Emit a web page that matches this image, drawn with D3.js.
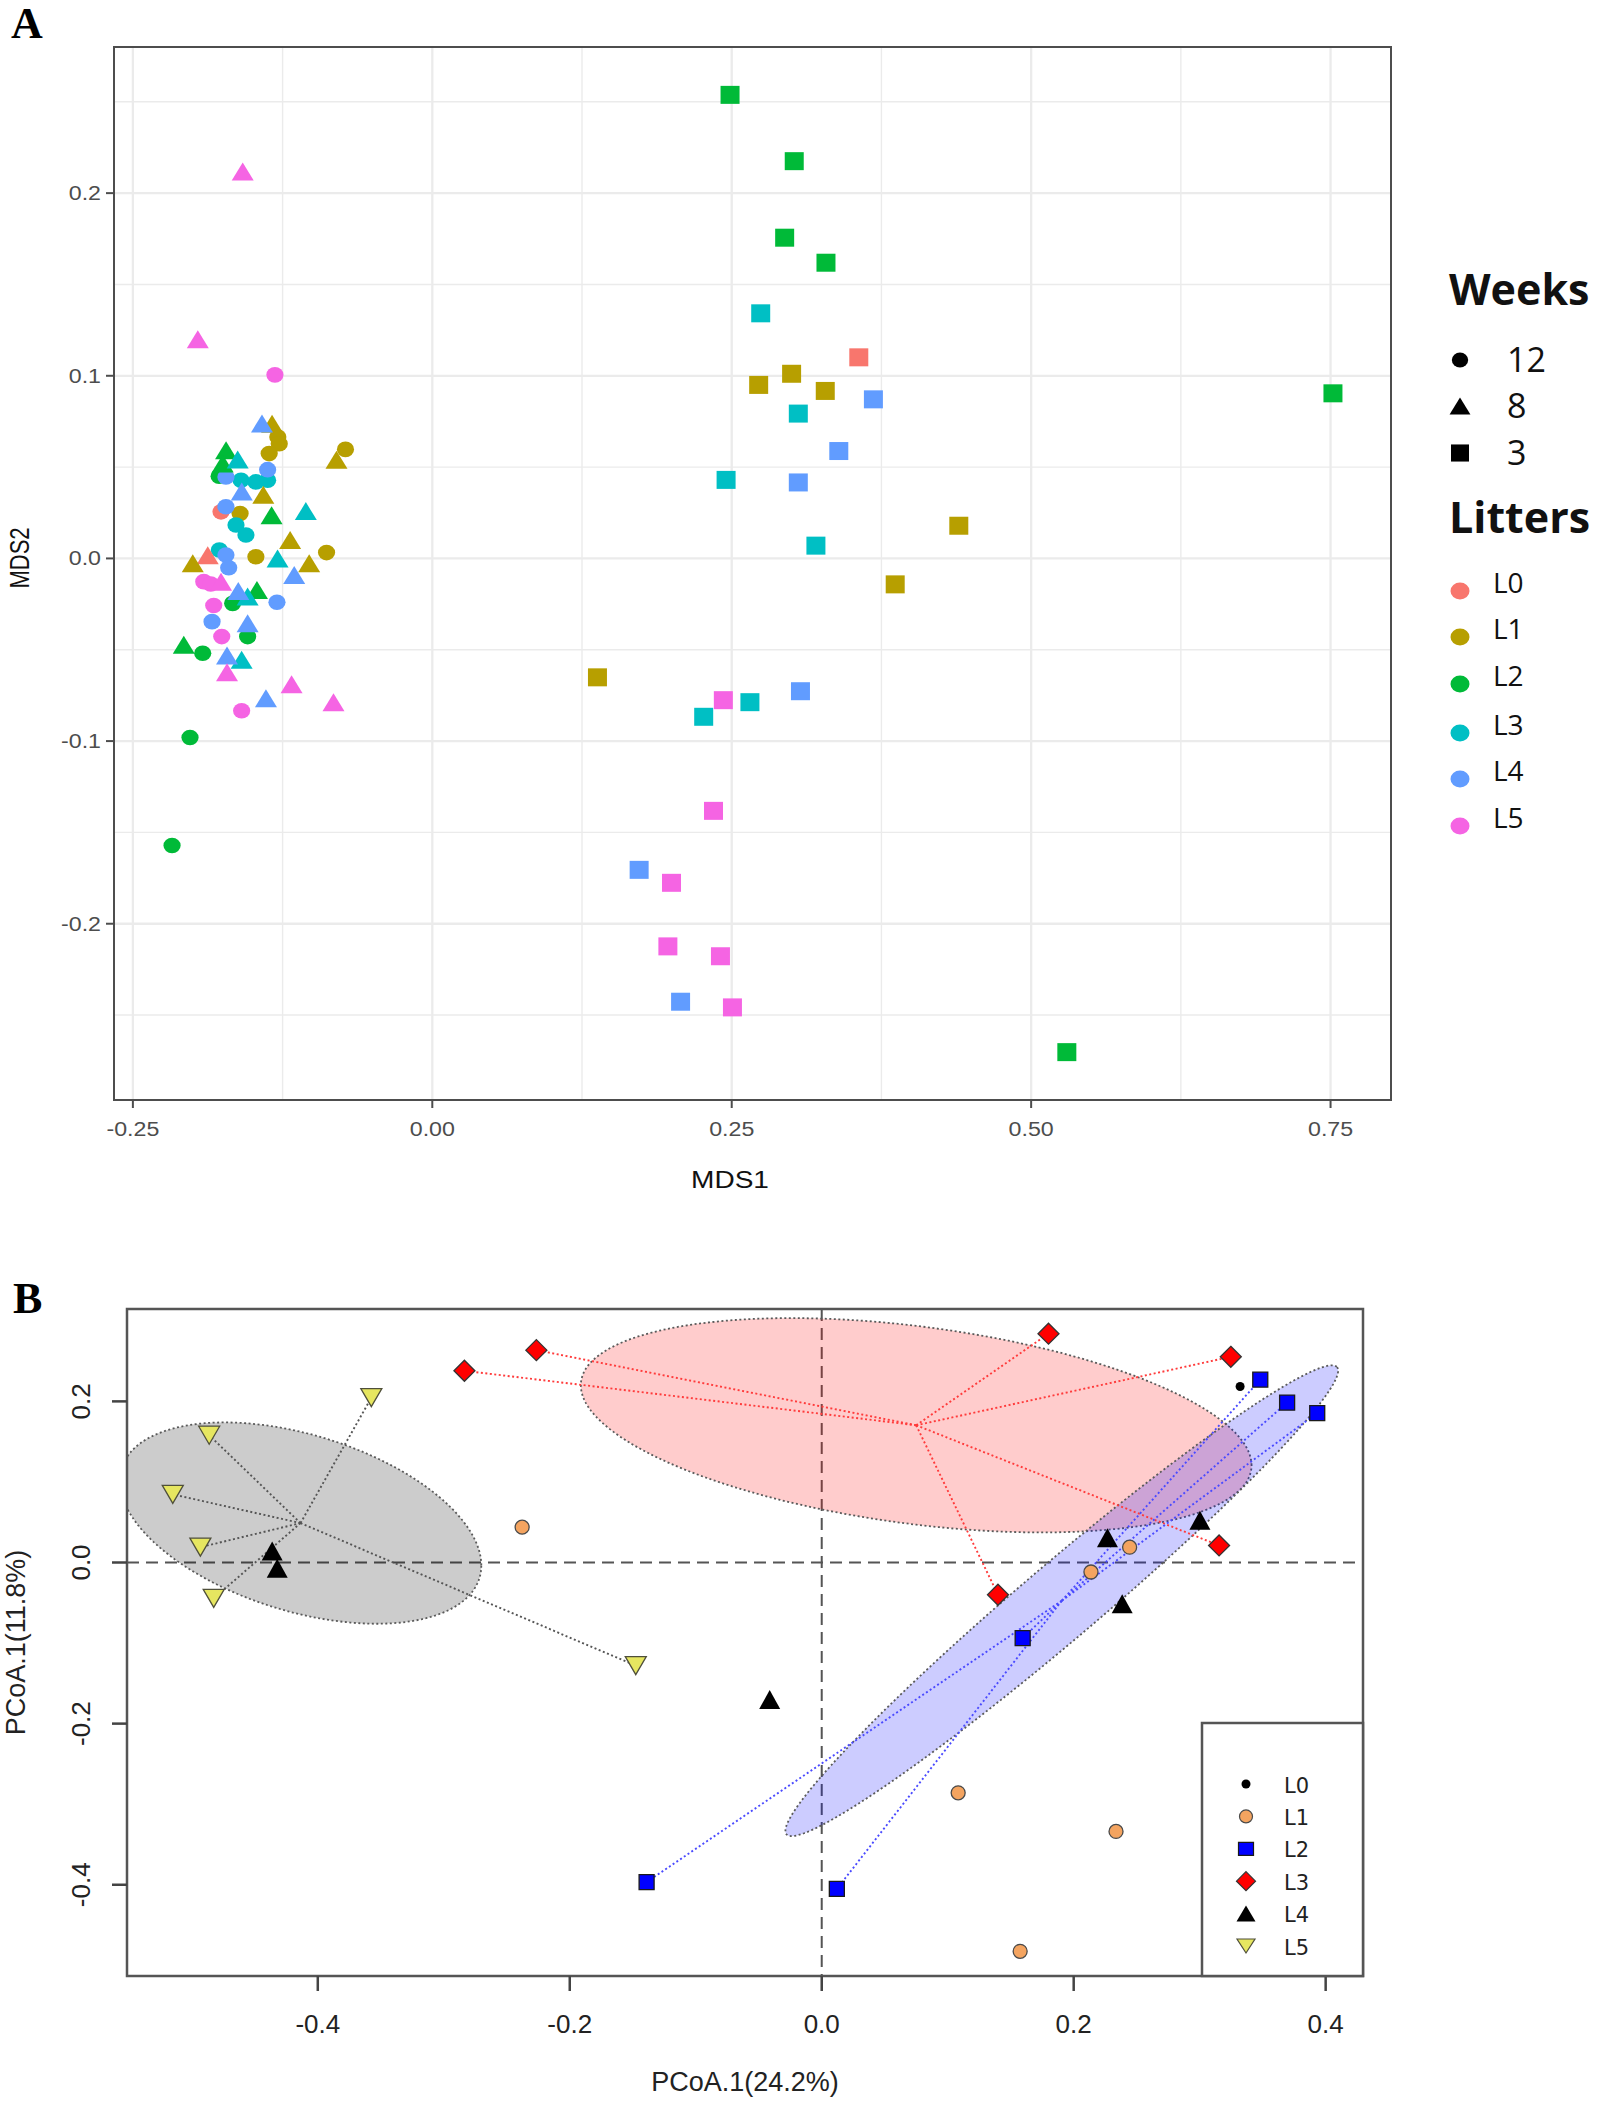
<!DOCTYPE html>
<html><head><meta charset="utf-8">
<script src="https://cdn.jsdelivr.net/npm/d3@7"></script>
<style>body{margin:0;background:#fff} svg{display:block}</style>
</head><body>
<svg id="chart" width="1598" height="2106"></svg>
<script>
// ================= Panel A: NMDS =================
const weeks = ["12", "8", "3"];
const litters = ["L0", "L1", "L2", "L3", "L4", "L5"];
const litterColors = ["#F8766D", "#B79F00", "#00BA38", "#00BFC4", "#619CFF", "#F564E3"];
const xTicksA = [-0.25, 0, 0.25, 0.5, 0.75];
const xTickLabelsA = ["-0.25", "0.00", "0.25", "0.50", "0.75"];
const yTicksA = [-0.2, -0.1, 0, 0.1, 0.2];
const yTickLabelsA = ["-0.2", "-0.1", "0.0", "0.1", "0.2"];

// [litter, MDS1, MDS2]
const week12 = [
  ["L0", -0.1764, 0.0255],
  ["L1", -0.1290, 0.0665], ["L1", -0.1278, 0.0628], ["L1", -0.1362, 0.0574], ["L1", -0.0725, 0.0597],
  ["L1", -0.1605, 0.0246], ["L1", -0.1473, 0.0009], ["L1", -0.0883, 0.0032],
  ["L2", -0.1780, 0.0450], ["L2", -0.1667, -0.0246], ["L2", -0.1542, -0.0428], ["L2", -0.1917, -0.0519],
  ["L2", -0.2023, -0.0980], ["L2", -0.2173, -0.1572],
  ["L3", -0.1597, 0.0428], ["L3", -0.1473, 0.0419], ["L3", -0.1375, 0.0428], ["L3", -0.1639, 0.0183],
  ["L3", -0.1556, 0.0128], ["L3", -0.1778, 0.0046],
  ["L4", -0.1723, 0.0446], ["L4", -0.1375, 0.0486], ["L4", -0.1723, 0.0283], ["L4", -0.1723, 0.0019],
  ["L4", -0.1700, -0.0051], ["L4", -0.1297, -0.0240], ["L4", -0.1839, -0.0346],
  ["L5", -0.1314, 0.1005], ["L5", -0.1908, -0.0127], ["L5", -0.1850, -0.0140], ["L5", -0.1825, -0.0258],
  ["L5", -0.1758, -0.0428], ["L5", -0.1592, -0.0834]
];
const week8 = [
  ["L0", -0.1875, 0.0018],
  ["L1", -0.1338, 0.0738], ["L1", -0.0800, 0.0540], ["L1", -0.1411, 0.0348], ["L1", -0.1187, 0.0101],
  ["L1", -0.2000, -0.0027], ["L1", -0.1028, -0.0027],
  ["L2", -0.1722, 0.0592], ["L2", -0.1750, 0.0520], ["L2", -0.1342, 0.0237], ["L2", -0.1464, -0.0173],
  ["L2", -0.2075, -0.0473],
  ["L3", -0.1625, 0.0542], ["L3", -0.1056, 0.0259], ["L3", -0.1292, 0.0000], ["L3", -0.1542, -0.0209],
  ["L3", -0.1592, -0.0555],
  ["L4", -0.1422, 0.0739], ["L4", -0.1591, 0.0366], ["L4", -0.1153, -0.0091], ["L4", -0.1620, -0.0178],
  ["L4", -0.1542, -0.0355], ["L4", -0.1714, -0.0532], ["L4", -0.1389, -0.0765],
  ["L5", -0.1583, 0.2118], ["L5", -0.1958, 0.1200], ["L5", -0.1764, -0.0127], ["L5", -0.1714, -0.0623],
  ["L5", -0.1175, -0.0689], ["L5", -0.0825, -0.0787]
];
const week3 = [
  ["L0", 0.3561, 0.1101],
  ["L1", 0.3000, 0.1011], ["L1", 0.2725, 0.0950], ["L1", 0.3281, 0.0917], ["L1", 0.4396, 0.0179],
  ["L1", 0.3865, -0.0142], ["L1", 0.1379, -0.0651],
  ["L2", 0.2486, 0.2538], ["L2", 0.3022, 0.2175], ["L2", 0.2942, 0.1756], ["L2", 0.3287, 0.1619],
  ["L2", 0.7520, 0.0904], ["L2", 0.5298, -0.2703],
  ["L3", 0.2742, 0.1342], ["L3", 0.3056, 0.0793], ["L3", 0.2453, 0.0430], ["L3", 0.3203, 0.0070],
  ["L3", 0.2652, -0.0787], ["L3", 0.2266, -0.0867],
  ["L4", 0.3683, 0.0871], ["L4", 0.3394, 0.0588], ["L4", 0.3056, 0.0416], ["L4", 0.3074, -0.0727],
  ["L4", 0.1727, -0.1705], ["L4", 0.2073, -0.2427],
  ["L5", 0.2430, -0.0776], ["L5", 0.2348, -0.1382], ["L5", 0.1997, -0.1776], ["L5", 0.1967, -0.2124],
  ["L5", 0.2406, -0.2178], ["L5", 0.2506, -0.2458]
];

// ================= Panel B: PCoA =================
const groupsB = ["L0", "L1", "L2", "L3", "L4", "L5"];
const pcoaL0 = [[0.3321, 0.2185]];
const pcoaL1 = [[-0.2378, 0.0439], [0.2444, 0.0190], [0.2137, -0.0118], [0.1083, -0.2859], [0.2336, -0.3338], [0.1575, -0.4826]];
const pcoaL2 = [[0.3481, 0.2270], [0.3694, 0.1985], [0.3933, 0.1855], [0.1595, -0.0938], [-0.1390, -0.3967], [0.0120, -0.4052]];
const pcoaL3 = [[-0.2836, 0.2380], [-0.2265, 0.2636], [0.1800, 0.2840], [0.3247, 0.2553], [0.1399, -0.0400], [0.3154, 0.0212]];
const pcoaL4 = [[-0.4362, 0.0144], [-0.4322, -0.0072], [0.2268, 0.0308], [0.2385, -0.0511], [-0.0413, -0.1700], [0.3002, 0.0524]];
const pcoaL5 = [[-0.4862, 0.1580], [-0.5151, 0.0846], [-0.4932, 0.0190], [-0.4826, -0.0446], [-0.3575, 0.2046], [-0.1476, -0.1280]];
const xTicksB = [-0.4, -0.2, 0, 0.2, 0.4];
const xTickLabelsB = ["-0.4", "-0.2", "0.0", "0.2", "0.4"];
const yTicksB = [-0.4, -0.2, 0, 0.2];
const yTickLabelsB = ["-0.4", "-0.2", "0.0", "0.2"];
// ellipse conjugate half-axes (data units) around each group centroid
const ellipseL5 = [[0.1435, -0.0525], [0.0, 0.1134]];
const ellipseL3 = [[0.2662, -0.0497], [0.0, 0.1234]];
const ellipseL2 = [[0.2185, 0.2900], [0.0197, -0.0358]];

// ---------------- helpers ----------------
const svg = d3.select("#chart");
const triUp = (w, h) => `M0,${-h/2}L${w/2},${h/2}L${-w/2},${h/2}Z`;
const triDown = (w, h) => `M0,${h/2}L${w/2},${-h/2}L${-w/2},${-h/2}Z`;
const rectP = (w, h) => `M${-w/2},${-h/2}h${w}v${h}h${-w}Z`;
const diamond = r => `M0,${-r}L${r},0L0,${r}L${-r},0Z`;
const ellP = (rx, ry) => `M${-rx},0a${rx},${ry} 0 1,0 ${2*rx},0a${rx},${ry} 0 1,0 ${-2*rx},0Z`;
const colorA = d3.scaleOrdinal().domain(litters).range(litterColors);
function minorTicks(ticks, dom) {
  const step = ticks[1] - ticks[0], out = [];
  for (let v = ticks[0] - step / 2; v <= dom[1] + 1e-9; v += step) if (v >= dom[0]) out.push(v);
  return out;
}

// ================= draw Panel A =================
const A = {left: 114, right: 1391, top: 47, bottom: 1100};
const allA = week12.concat(week8, week3);
const xe = d3.extent(allA, d => d[1]), ye = d3.extent(allA, d => d[2]);
const px = (xe[1] - xe[0]) * 0.05, py = (ye[1] - ye[0]) * 0.05;
const xA = d3.scaleLinear().domain([xe[0] - px, xe[1] + px]).range([A.left, A.right]);
const yA = d3.scaleLinear().domain([ye[0] - py, ye[1] + py]).range([A.bottom, A.top]);

const gA = svg.append("g");
gA.append("rect").attr("x", A.left).attr("y", A.top).attr("width", A.right - A.left)
  .attr("height", A.bottom - A.top).attr("fill", "#fff");
const grid = gA.append("g").attr("stroke", "#EBEBEB");
minorTicks(xTicksA, xA.domain()).forEach(v => grid.append("line").attr("x1", xA(v)).attr("x2", xA(v))
  .attr("y1", A.top).attr("y2", A.bottom).attr("stroke-width", 1.4));
minorTicks(yTicksA, yA.domain()).forEach(v => grid.append("line").attr("y1", yA(v)).attr("y2", yA(v))
  .attr("x1", A.left).attr("x2", A.right).attr("stroke-width", 1.4));
xTicksA.forEach(v => grid.append("line").attr("x1", xA(v)).attr("x2", xA(v))
  .attr("y1", A.top).attr("y2", A.bottom).attr("stroke-width", 2.3));
yTicksA.forEach(v => grid.append("line").attr("y1", yA(v)).attr("y2", yA(v))
  .attr("x1", A.left).attr("x2", A.right).attr("stroke-width", 2.3));

const shapeA = {"12": ellP(8.6, 7.8), "8": triUp(22, 18), "3": rectP(19, 18)};
[["12", week12], ["8", week8], ["3", week3]].forEach(([wk, arr]) => {
  gA.append("g").selectAll("path").data(arr).join("path")
    .attr("d", shapeA[wk])
    .attr("transform", d => `translate(${xA(d[1])},${yA(d[2])})`)
    .attr("fill", d => colorA(d[0]));
});
gA.append("rect").attr("x", A.left).attr("y", A.top).attr("width", A.right - A.left)
  .attr("height", A.bottom - A.top).attr("fill", "none").attr("stroke", "#4d4d4d").attr("stroke-width", 2);

// axes A
const stretch = 1.16;
const fontA = "Liberation Sans, Arial, sans-serif";
xTicksA.forEach((v, i) => {
  gA.append("line").attr("x1", xA(v)).attr("x2", xA(v)).attr("y1", A.bottom).attr("y2", A.bottom + 8)
    .attr("stroke", "#4d4d4d").attr("stroke-width", 2);
  gA.append("text").attr("transform", `translate(${xA(v)},${1136}) scale(${stretch},1)`)
    .attr("text-anchor", "middle").attr("font-family", fontA)
    .attr("font-size", 20).attr("fill", "#4d4d4d").text(xTickLabelsA[i]);
});
yTicksA.forEach((v, i) => {
  gA.append("line").attr("x1", A.left - 8).attr("x2", A.left).attr("y1", yA(v)).attr("y2", yA(v))
    .attr("stroke", "#4d4d4d").attr("stroke-width", 2);
  gA.append("text").attr("transform", `translate(${A.left - 13},${yA(v) + 7}) scale(${stretch},1)`)
    .attr("text-anchor", "end").attr("font-family", fontA)
    .attr("font-size", 20).attr("fill", "#4d4d4d").text(yTickLabelsA[i]);
});
gA.append("text").attr("transform", `translate(730,1188) scale(1.22,1)`).attr("text-anchor", "middle")
  .attr("font-family", fontA).attr("font-size", 23).attr("fill", "#111").text("MDS1");
gA.append("text").attr("transform", `translate(29,558) scale(1.25,1) rotate(-90)`).attr("text-anchor", "middle")
  .attr("font-family", fontA).attr("font-size", 22).attr("fill", "#111").text("MDS2");

// legend A
const lg = svg.append("g").attr("font-family", "Open Sans, sans-serif").attr("fill", "#111");
lg.append("text").attr("x", 1449).attr("y", 305).attr("font-size", 43).attr("font-weight", 700).text("Weeks");
const wkY = [360, 406, 453];
weeks.forEach((w, i) => {
  lg.append("path").attr("d", shapeA[w]).attr("transform", `translate(1460,${wkY[i]}) scale(0.95)`).attr("fill", "#000");
  lg.append("text").attr("x", 1507).attr("y", wkY[i] + 12).attr("font-size", 34).text(w);
});
lg.append("text").attr("x", 1449).attr("y", 533).attr("font-size", 43).attr("font-weight", 700).text("Litters");
const ltY = [591, 637, 684, 733, 779, 826];
litters.forEach((l, i) => {
  lg.append("path").attr("d", ellP(9.5, 8.5)).attr("transform", `translate(1460,${ltY[i]})`).attr("fill", colorA(l));
  lg.append("text").attr("x", 1493).attr("y", ltY[i] + 2).attr("font-size", 28).text(l);
});

svg.append("text").attr("x", 11).attr("y", 38).attr("font-family", "Liberation Serif, Times New Roman, serif")
  .attr("font-weight", 700).attr("font-size", 44).attr("fill", "#000").text("A");
svg.append("text").attr("x", 13).attr("y", 1313).attr("font-family", "Liberation Serif, Times New Roman, serif")
  .attr("font-weight", 700).attr("font-size", 44).attr("fill", "#000").text("B");

// ================= draw Panel B =================
const B = {left: 127, right: 1363, top: 1309, bottom: 1976};
const groupData = {L0: pcoaL0, L1: pcoaL1, L2: pcoaL2, L3: pcoaL3, L4: pcoaL4, L5: pcoaL5};
const allB = groupsB.flatMap(g => groupData[g]);
const bxe = d3.extent(allB, d => d[0]), bye = d3.extent(allB, d => d[1]);
const bpx = (bxe[1] - bxe[0]) * 0.04, bpy = (bye[1] - bye[0]) * 0.04;
const xB = d3.scaleLinear().domain([bxe[0] - bpx, bxe[1] + bpx]).range([B.left, B.right]);
const yB = d3.scaleLinear().domain([bye[0] - bpy, bye[1] + bpy]).range([B.bottom, B.top]);

const gB = svg.append("g");
svg.append("defs").append("clipPath").attr("id", "clipB").append("rect")
  .attr("x", B.left).attr("y", B.top).attr("width", B.right - B.left).attr("height", B.bottom - B.top);
const inner = gB.append("g").attr("clip-path", "url(#clipB)");

// zero lines
inner.append("line").attr("x1", B.left).attr("x2", B.right).attr("y1", yB(0)).attr("y2", yB(0))
  .attr("stroke", "#555").attr("stroke-width", 2).attr("stroke-dasharray", "12,7");
inner.append("line").attr("x1", xB(0)).attr("x2", xB(0)).attr("y1", B.top).attr("y2", B.bottom)
  .attr("stroke", "#555").attr("stroke-width", 2).attr("stroke-dasharray", "12,7");

const ellSpecs = [
  {g: "L5", axes: ellipseL5, fill: "rgba(0,0,0,0.2)", spider: "#555"},
  {g: "L3", axes: ellipseL3, fill: "rgba(255,0,0,0.2)", spider: "#ff3b3b"},
  {g: "L2", axes: ellipseL2, fill: "rgba(0,0,255,0.2)", spider: "#4a4aff"}
];
const centroid = arr => [d3.mean(arr, d => d[0]), d3.mean(arr, d => d[1])];
const ts = d3.range(0, 2 * Math.PI, Math.PI / 90);
const ellLine = d3.line().curve(d3.curveLinearClosed);
ellSpecs.forEach(s => {
  const c = centroid(groupData[s.g]);
  const [a, b] = s.axes;
  const pts = ts.map(t => [xB(c[0] + a[0] * Math.cos(t) + b[0] * Math.sin(t)),
                           yB(c[1] + a[1] * Math.cos(t) + b[1] * Math.sin(t))]);
  inner.append("path").attr("d", ellLine(pts)).attr("fill", s.fill)
    .attr("stroke", "#5a5a5a").attr("stroke-width", 1.8).attr("stroke-dasharray", "2,2.5");
});
ellSpecs.forEach(s => {
  const c = centroid(groupData[s.g]);
  inner.append("g").selectAll("line").data(groupData[s.g]).join("line")
    .attr("x1", xB(c[0])).attr("y1", yB(c[1]))
    .attr("x2", d => xB(d[0])).attr("y2", d => yB(d[1]))
    .attr("stroke", s.spider).attr("stroke-width", 1.9).attr("stroke-dasharray", "2,2.5");
});

const markB = {
  L0: {d: ellP(4.5, 4.5), fill: "#000", stroke: "none"},
  L1: {d: ellP(7, 7), fill: "#F4A460", stroke: "#4a4a4a"},
  L2: {d: rectP(15, 15), fill: "#0000FF", stroke: "#1a1a1a"},
  L3: {d: diamond(10.5), fill: "#FF0000", stroke: "#333"},
  L4: {d: triUp(21, 19), fill: "#000", stroke: "none"},
  L5: {d: triDown(21, 18), fill: "#E6E660", stroke: "#4f4f3a"}
};
groupsB.forEach(g => {
  inner.append("g").selectAll("path").data(groupData[g]).join("path")
    .attr("d", markB[g].d).attr("transform", d => `translate(${xB(d[0])},${yB(d[1])})`)
    .attr("fill", markB[g].fill).attr("stroke", markB[g].stroke).attr("stroke-width", 1.3);
});

gB.append("rect").attr("x", B.left).attr("y", B.top).attr("width", B.right - B.left)
  .attr("height", B.bottom - B.top).attr("fill", "none").attr("stroke", "#555").attr("stroke-width", 2.5);

// axes B
const fontB = "Liberation Sans, Arial, sans-serif";
xTicksB.forEach((v, i) => {
  gB.append("line").attr("x1", xB(v)).attr("x2", xB(v)).attr("y1", B.bottom).attr("y2", B.bottom + 15)
    .attr("stroke", "#444").attr("stroke-width", 2.5);
  gB.append("text").attr("x", xB(v)).attr("y", 2033).attr("text-anchor", "middle")
    .attr("font-family", fontB).attr("font-size", 26).attr("fill", "#222").text(xTickLabelsB[i]);
});
yTicksB.forEach((v, i) => {
  gB.append("line").attr("x1", B.left - 15).attr("x2", B.left).attr("y1", yB(v)).attr("y2", yB(v))
    .attr("stroke", "#444").attr("stroke-width", 2.5);
  gB.append("text").attr("transform", `translate(90,${yB(v)}) rotate(-90)`).attr("text-anchor", "middle")
    .attr("font-family", fontB).attr("font-size", 26).attr("fill", "#222").text(yTickLabelsB[i]);
});
gB.append("text").attr("x", (B.left + B.right) / 2).attr("y", 2091).attr("text-anchor", "middle")
  .attr("font-family", fontB).attr("font-size", 27).attr("fill", "#222").text("PCoA.1(24.2%)");
gB.append("text").attr("transform", `translate(25,${(B.top + B.bottom) / 2}) rotate(-90)`).attr("text-anchor", "middle")
  .attr("font-family", fontB).attr("font-size", 27).attr("fill", "#222").text("PCoA.1(11.8%)");

// legend B
const LB = {left: 1202, top: 1723};
gB.append("rect").attr("x", LB.left).attr("y", LB.top).attr("width", B.right - LB.left)
  .attr("height", B.bottom - LB.top).attr("fill", "#fff").attr("stroke", "#555").attr("stroke-width", 2.5);
const legMarkB = {
  L0: ellP(4.5, 4.5), L1: ellP(6.5, 6.5), L2: rectP(15, 13), L3: diamond(9.5), L4: triUp(19, 16), L5: triDown(18, 14)
};
groupsB.forEach((g, i) => {
  const y = 1784 + i * 32.4;
  gB.append("path").attr("d", legMarkB[g]).attr("transform", `translate(1246,${y})`)
    .attr("fill", markB[g].fill).attr("stroke", markB[g].stroke).attr("stroke-width", 1.2);
  gB.append("text").attr("x", 1284).attr("y", y + 8.5).attr("font-family", "DejaVu Sans, Verdana, sans-serif")
    .attr("font-size", 21).attr("fill", "#222").text(g);
});
</script>
</body></html>
